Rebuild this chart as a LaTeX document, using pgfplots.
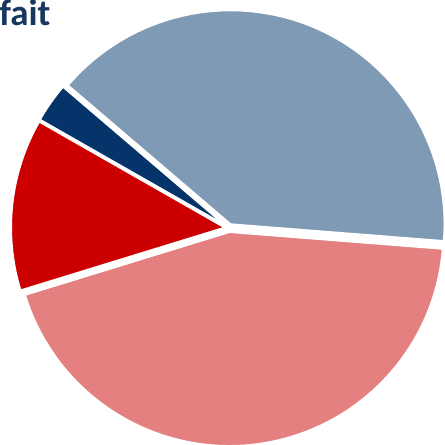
\documentclass[border=0pt]{standalone}
\usepackage{pgfplots}
\pgfplotsset{compat=1.18}
\usepackage{pgfplotstable}
\usepackage{fontspec}
\setmainfont{Carlito}
\usetikzlibrary{calc}
\definecolor{greyblue}{HTML}{7F9AB5}
\definecolor{navyslice}{HTML}{04346A}
\definecolor{redslice}{HTML}{CC0000}
\definecolor{salmon}{HTML}{E48080}
\definecolor{navytext}{HTML}{17375E}

\pgfplotstableread{
label value color
A 40 greyblue
B 3 navyslice
C 13 redslice
D 44 salmon
}\piedata

\begin{document}
\begin{tikzpicture}
\begin{axis}[at={(0,0)}, anchor=south west, hide axis, scale only axis,
  width=445pt, height=445pt, xmin=0, xmax=445, ymin=0, ymax=445, clip=false]
\pgfplotstablegetrowsof{\piedata}
\pgfmathtruncatemacro{\nrows}{\pgfplotsretval-1}
\gdef\cumangle{-4.5}
\pgfplotsforeachungrouped \i in {0,...,\nrows}{%
  \pgfplotstablegetelem{\i}{value}\of\piedata \let\val\pgfplotsretval
  \pgfplotstablegetelem{\i}{color}\of\piedata \let\col\pgfplotsretval
  \pgfmathsetmacro{\endangle}{\cumangle+3.6*\val}%
  \pgfmathsetmacro{\midangle}{(\cumangle+\endangle)/2}%
  \edef\temp{\noexpand\filldraw[fill=\col, draw=white, line width=2pt, line join=round] ($(axis cs:229,217)+(\midangle:4pt)$) -- ++(\cumangle:214pt) arc[start angle=\cumangle, end angle=\endangle, radius=214pt] -- cycle;}%
  \temp
  \global\let\cumangle\endangle
}
\end{axis}
\node[anchor=base west, inner sep=0pt, text=navytext, font=\bfseries\fontsize{37}{37}\selectfont] at (-12pt, 419pt) {-fait};
\pgfresetboundingbox
\useasboundingbox (0,0) rectangle (445pt,445pt);
\end{tikzpicture}
\end{document}
